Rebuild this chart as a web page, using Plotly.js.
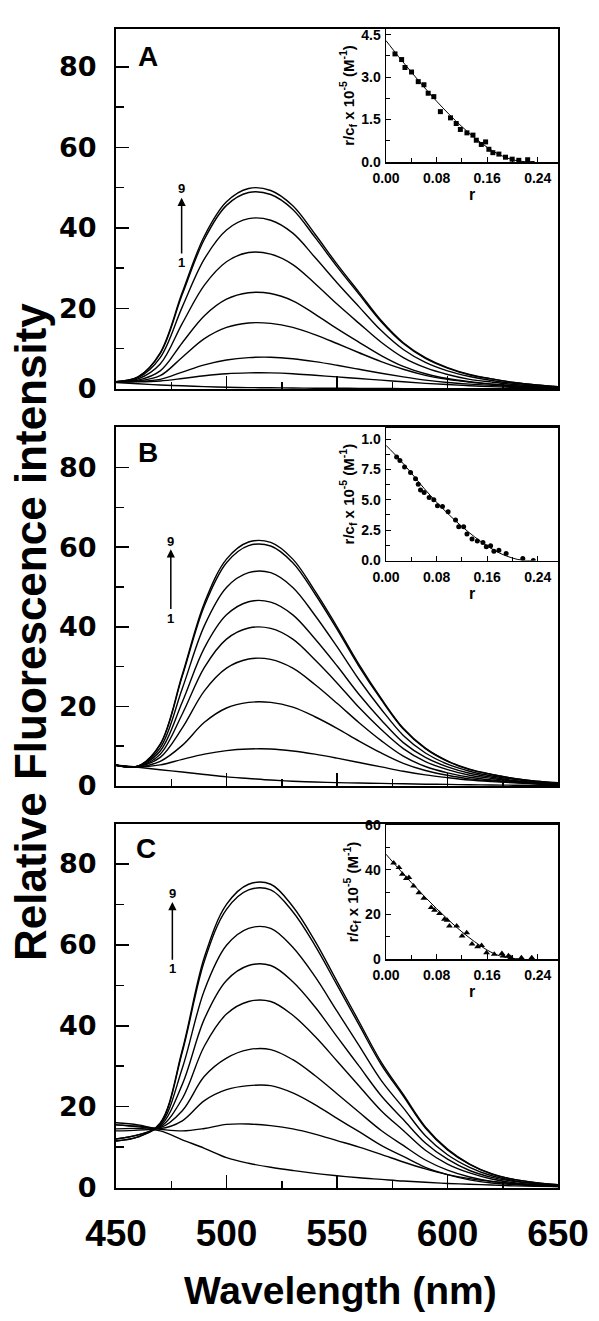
<!DOCTYPE html>
<html><head><meta charset="utf-8">
<script src="https://cdn.plot.ly/plotly-3.0.1.min.js"></script>
<style>html,body{margin:0;padding:0;background:#fff;} #chart{width:599px;height:1321px;}</style>
</head><body><div id="chart"></div>
<script>
// ---------- DATA ----------
const wavelength = [450,460,470,480,490,500,510,520,530,540,550,560,570,580,590,600,610,620,630,640,650];

// Panel A spectra (curve 1 .. 9)
const A1 = [1.6,1.3,1.0,0.8,0.6,0.45,0.35,0.3,0.25,0.2,0.2,0.15,0.15,0.1,0.1,0.1,0.1,0.1,0.1,0.1,0.1];
const A2 = [1.8,1.8,2.0,2.6,3.3,3.8,4.0,4.0,3.8,3.4,3.0,2.6,2.2,1.8,1.4,1.1,0.8,0.6,0.4,0.3,0.2];
const A3 = [1.8,1.9,2.4,4.2,6.0,7.2,7.8,7.9,7.5,6.8,5.9,4.9,3.9,3.0,2.2,1.6,1.2,0.9,0.6,0.4,0.3];
const A4 = [1.8,2.0,3.3,7.9,12.5,15.3,16.4,16.3,15.3,13.5,11.3,9.0,6.8,4.9,3.4,2.4,1.7,1.2,0.8,0.5,0.3];
const A5 = [1.8,2.2,4.5,11.5,18.2,22.3,23.9,23.7,21.9,18.6,15.0,11.6,8.3,5.6,3.8,2.6,1.8,1.2,0.8,0.5,0.3];
const A6 = [1.8,2.5,6.2,16.3,25.8,31.6,33.9,33.5,30.9,26.2,21.1,16.3,11.6,7.8,5.3,3.6,2.4,1.7,1.1,0.7,0.4];
const A7 = [1.8,2.8,7.8,20.4,32.3,39.5,42.3,41.9,38.7,32.7,26.4,20.4,14.5,9.8,6.6,4.5,3.1,2.1,1.4,0.9,0.5];
const A8 = [1.8,3.0,8.8,23.5,37.2,45.6,48.8,48.3,44.6,37.7,30.4,23.5,16.7,11.3,7.6,5.2,3.5,2.5,1.6,1.0,0.6];
const A9 = [1.8,3.0,9.0,24.0,38.0,46.5,49.8,49.3,45.5,38.5,31.0,24.0,17.0,11.5,7.8,5.3,3.6,2.5,1.6,1.0,0.6];

// Panel B spectra
const B1 = [5.2,4.7,4.1,3.5,2.9,2.3,1.9,1.5,1.2,1.0,0.85,0.75,0.65,0.55,0.45,0.4,0.3,0.25,0.2,0.15,0.1];
const B2 = [5.2,4.8,5.3,6.7,8.0,8.9,9.3,9.3,8.8,8.0,7.0,5.9,4.8,3.7,2.8,2.1,1.5,1.1,0.8,0.5,0.3];
const B3 = [5.2,4.8,6.2,10.2,16.0,19.6,21.0,21.0,19.8,17.4,14.5,11.3,8.3,5.7,3.9,2.7,1.8,1.3,0.9,0.6,0.4];
const B4 = [5.2,4.9,7.2,14.6,23.9,29.6,31.9,31.8,29.6,25.5,20.8,15.9,11.4,7.5,4.9,3.3,2.2,1.5,1.0,0.6,0.4];
const B5 = [5.2,4.9,8.0,18.1,29.8,36.9,39.7,39.6,36.9,31.7,25.9,19.7,14.2,9.4,6.1,4.1,2.7,1.9,1.2,0.8,0.5];
const B6 = [5.2,5.0,8.8,21.1,34.7,43.0,46.3,46.2,43.0,37.0,30.2,23.0,16.6,10.9,7.2,4.8,3.2,2.2,1.4,0.9,0.6];
const B7 = [5.2,5.0,9.6,24.5,40.3,49.9,53.6,53.6,49.9,42.9,35.0,26.7,19.3,12.7,8.3,5.5,3.7,2.5,1.7,1.1,0.7];
const B8 = [5.2,5.0,10.4,27.6,45.3,56.1,60.4,60.3,56.1,48.3,39.4,30.0,21.7,14.3,9.4,6.2,4.1,2.9,1.9,1.2,0.8];
const B9 = [5.2,5.0,10.5,28.0,46.0,57.0,61.3,61.2,57.0,49.0,40.0,30.5,22.0,14.5,9.5,6.3,4.2,2.9,1.9,1.2,0.8];

// Panel C spectra
const C1 = [14.5,14.6,14.0,11.8,9.7,7.4,6.0,5.0,4.2,3.5,2.9,2.4,2.0,1.6,1.3,1.0,0.8,0.6,0.4,0.3,0.2];
const C2 = [15.5,15.0,14.4,14.0,14.6,15.6,15.7,15.3,14.5,13.2,11.6,10.0,8.2,6.3,4.6,3.2,2.2,1.5,1.0,0.6,0.4];
const C3 = [16.0,15.5,14.6,16.5,21.5,24.2,25.2,25.2,23.4,20.5,17.1,13.8,10.4,7.7,5.0,3.2,1.9,1.1,0.7,0.4,0.2];
const C4 = [15.5,15.2,14.8,19.0,27.5,32.0,34.1,34.1,31.6,27.7,23.2,18.6,14.1,10.4,6.8,4.3,2.6,1.5,0.9,0.5,0.3];
const C5 = [14.0,14.2,15.0,22.0,35.0,42.9,46.0,46.0,42.6,37.4,31.3,25.1,19.0,14.1,9.2,5.8,3.6,2.1,1.2,0.7,0.4];
const C6 = [12.0,13.0,15.2,25.5,41.7,51.2,54.9,54.9,50.9,44.7,37.3,30.0,22.7,16.8,11.0,7.0,4.2,2.5,1.5,0.9,0.5];
const C7 = [12.0,13.0,15.5,29.5,48.8,59.9,64.1,64.1,59.4,52.2,43.6,35.1,26.5,19.7,12.8,8.1,5.0,2.9,1.7,1.0,0.6];
const C8 = [11.5,12.5,15.8,33.5,56.0,68.8,73.6,73.6,68.2,59.9,50.1,40.2,30.4,22.6,14.7,9.3,5.7,3.3,2.0,1.2,0.7];
const C9 = [11.5,12.5,16.0,34.0,57.0,70.0,75.0,75.0,69.5,61.0,51.0,41.0,31.0,23.0,15.0,9.5,5.8,3.4,2.0,1.2,0.7];

// Inset A (Scatchard, squares)
const insetA_r = [0.0142,0.0247,0.030,0.0404,0.051,0.060,0.0667,0.0756,0.086,0.102,0.111,0.1176,0.128,0.1375,0.1428,0.1507,0.1575,0.1627,0.169,0.1785,0.189,0.1995,0.210,0.224];
const insetA_y = [3.82,3.62,3.34,3.18,2.84,2.73,2.43,2.31,1.78,1.56,1.36,1.15,1.03,0.95,0.77,0.62,0.71,0.45,0.33,0.28,0.17,0.10,0.06,0.08];
const fitA_r = [0,0.02,0.04,0.06,0.08,0.10,0.12,0.14,0.16,0.18,0.20,0.22,0.235];
const fitA_y = [4.29,3.72,3.18,2.65,2.15,1.68,1.25,0.86,0.52,0.25,0.08,0.01,0.02];

// Inset B (circles)
const insetB_r = [0.0168,0.022,0.0294,0.0388,0.0467,0.051,0.0546,0.0603,0.0682,0.0756,0.0814,0.0893,0.0982,0.110,0.115,0.1228,0.128,0.136,0.1444,0.1533,0.1586,0.1654,0.1706,0.1785,0.190,0.2163,0.233];
const insetB_y = [8.51,8.24,7.69,7.25,6.72,6.28,5.81,5.59,5.18,4.99,4.51,4.44,4.02,3.34,2.78,2.78,2.18,1.77,1.60,1.49,1.13,1.21,0.77,0.85,0.58,0.17,0.0];
const fitB_r = [0,0.02,0.04,0.06,0.08,0.10,0.12,0.14,0.16,0.18,0.20,0.215,0.235];
const fitB_y = [9.48,8.4,7.2,5.95,4.8,3.75,2.8,1.95,1.2,0.6,0.2,0.03,0.0];

// Inset C (triangles)
const insetC_r = [0.0121,0.0205,0.0258,0.0321,0.0362,0.0436,0.052,0.0598,0.0715,0.0767,0.0846,0.0924,0.0967,0.1003,0.1118,0.1203,0.1276,0.136,0.1449,0.1512,0.159,0.1712,0.1833,0.1853,0.1937,0.1974,0.2141,0.2305];
const insetC_y = [43.1,41.0,38.0,36.1,36.6,32.7,29.7,27.2,23.1,21.9,20.4,17.8,17.4,14.8,14.8,10.3,11.8,6.7,5.5,6.0,2.8,2.1,2.5,1.3,1.5,0.7,0.6,0.6];
const fitC_r = [0,0.02,0.04,0.06,0.08,0.10,0.12,0.14,0.16,0.18,0.20,0.21];
const fitC_y = [47.0,40.5,34.3,28.3,22.6,17.2,12.2,7.8,4.0,1.4,0.3,0.1];

const panelLabels = ['A','B','C'];
const insetBTickText = ['0.0','2.5','5.0','7.5','1.0'];

// ---------- LAYOUT HELPERS ----------
const W = 599, H = 1321;
const fx = p => p / W;
const fy = p => 1 - p / H;
const BOLD = 'bold';
const FONT = 'Liberation Sans, Arial, sans-serif';

const panels = [
  {curves:[A1,A2,A3,A4,A5,A6,A7,A8,A9], top:29, bot:389, ymax:89.4,
   inset:{r:insetA_r, y:insetA_y, fr:fitA_r, fy:fitA_y, sym:'square', size:5, top:29, bot:162, ymax:4.7, dtick:1.5, fmt:'.1f'},
   arrow:{x:479.7, y1:47.5, t9:49.9, t1:31.4}, lab:{x:464.5, y:82.5}},
  {curves:[B1,B2,B3,B4,B5,B6,B7,B8,B9], top:427, bot:786, ymax:90.2,
   inset:{r:insetB_r, y:insetB_y, fr:fitB_r, fy:fitB_y, sym:'circle', size:5, top:427.7, bot:560.5, ymax:10.93, dtick:2.5, fmt:'.1f', ticktext:insetBTickText},
   arrow:{x:474.8, y1:59.5, t9:61.4, t1:42.2}, lab:{x:464.7, y:83.8}},
  {curves:[C1,C2,C3,C4,C5,C6,C7,C8,C9], top:824, bot:1187.5, ymax:89.9,
   inset:{r:insetC_r, y:insetC_y, fr:fitC_r, fy:fitC_y, sym:'triangle-up', size:6, top:825, bot:959, ymax:60.1, dtick:20, fmt:'d'},
   arrow:{x:475.5, y1:70.6, t9:72.8, t1:54.1}, lab:{x:463.6, y:83.9}}
];

const traces = [];
const layout = {
  width: W, height: H, margin:{l:0,r:0,t:0,b:0},
  paper_bgcolor:'#fff', plot_bgcolor:'rgba(0,0,0,0)',
  showlegend:false, font:{family:FONT, color:'#000'},
  annotations:[]
};

panels.forEach((p, i) => {
  const n = i + 1, m = i + 4;
  const xa = 'x' + (n===1?'':n), ya = 'y' + (n===1?'':n);
  const xi = 'x' + m, yi = 'y' + m;
  p.curves.forEach(c => traces.push({x:wavelength, y:c, xaxis:xa, yaxis:ya, type:'scatter', mode:'lines',
    line:{color:'#000', width:1.4, shape:'spline', smoothing:1}, hoverinfo:'skip'}));
  traces.push({x:p.inset.fr, y:p.inset.fy, xaxis:xi, yaxis:yi, type:'scatter', mode:'lines',
    line:{color:'#000', width:1, shape:'spline'}});
  traces.push({x:p.inset.r, y:p.inset.y, xaxis:xi, yaxis:yi, type:'scatter', mode:'markers',
    marker:{symbol:p.inset.sym, size:p.inset.size, color:'#000'}});

  layout['xaxis' + (n===1?'':n)] = {
    domain:[fx(116), fx(558)], anchor:ya, range:[450,650], tick0:450, dtick:50,
    ticks:'inside', ticklen:13, tickwidth:1.5, tickcolor:'#000',
    minor:{tick0:450, dtick:25, ticks:'inside', ticklen:7, tickwidth:1.5, tickcolor:'#000', showgrid:false},
    showline:true, linewidth:2, linecolor:'#000', mirror:true, showgrid:false, zeroline:false,
    showticklabels: n===3, ticklabelstandoff: 12,
    tickfont:{family:FONT, size:37, weight:BOLD, color:'#000'}
  };
  layout['yaxis' + (n===1?'':n)] = {
    domain:[fy(p.bot), fy(p.top)], anchor:xa, range:[0,p.ymax], tick0:0, dtick:20,
    ticks:'inside', ticklen:13, tickwidth:1.5, tickcolor:'#000',
    minor:{tick0:0, dtick:10, ticks:'inside', ticklen:8, tickwidth:1.5, tickcolor:'#000', showgrid:false},
    showline:true, linewidth:2, linecolor:'#000', mirror:true, showgrid:false, zeroline:false,
    ticklabelstandoff: 12,
    tickfont:{family:'DejaVu Sans, sans-serif', size:27, weight:BOLD, color:'#000'}
  };
  layout['xaxis' + m] = {
    domain:[fx(386), fx(558)], anchor:yi, range:[0,0.272], tick0:0, dtick:0.08, tickformat:'.2f',
    ticks:'inside', ticklen:5, tickwidth:1, tickcolor:'#000',
    minor:{tick0:0, dtick:0.04, ticks:'inside', ticklen:4, tickwidth:1, tickcolor:'#000', showgrid:false},
    showline:true, linewidth:1.5, linecolor:'#000', mirror:true, showgrid:false, zeroline:false,
    ticklabelstandoff: 3,
    tickfont:{family:FONT, size:14, weight:BOLD, color:'#000'},
    title:{text:'r', standoff:1, font:{family:FONT, size:16, weight:BOLD, color:'#000'}}
  };
  const yin = {
    domain:[fy(p.inset.bot), fy(p.inset.top)], anchor:xi, range:[0,p.inset.ymax], tick0:0, dtick:p.inset.dtick,
    tickformat:p.inset.fmt,
    ticks:'inside', ticklen:5, tickwidth:1, tickcolor:'#000',
    minor:{tick0:0, dtick:p.inset.dtick/2, ticks:'inside', ticklen:4, tickwidth:1, tickcolor:'#000', showgrid:false},
    showline:true, linewidth:1.5, linecolor:'#000', mirror:true, showgrid:false, zeroline:false,
    ticklabelstandoff: 1,
    tickfont:{family:FONT, size:14, weight:BOLD, color:'#000'},
    title:{text:'r/c<sub>f</sub> x 10<sup>-5</sup> (M<sup>-1</sup>)', standoff:3, font:{family:FONT, size:15, weight:BOLD, color:'#000'}}
  };
  if (p.inset.ticktext) { yin.tickmode = 'array'; yin.tickvals = [0,2.5,5,7.5,10]; yin.ticktext = p.inset.ticktext; }
  layout['yaxis' + m] = yin;

  // panel letter
  layout.annotations.push({xref:xa, yref:ya, x:p.lab.x, y:p.lab.y, text:panelLabels[i], showarrow:false,
    font:{family:FONT, size:28, weight:BOLD, color:'#000'}});
  // "1" label with arrow pointing up towards "9"
  layout.annotations.push({xref:xa, yref:ya, axref:xa, ayref:ya, x:p.arrow.x, y:p.arrow.y1, ax:p.arrow.x, ay:p.arrow.t1,
    text:'1', showarrow:true, arrowhead:2, arrowsize:1.1, arrowwidth:1.5, arrowcolor:'#000', standoff:0,
    font:{family:FONT, size:13, weight:BOLD, color:'#000'}});
  layout.annotations.push({xref:xa, yref:ya, x:p.arrow.x, y:p.arrow.t9, text:'9', showarrow:false,
    font:{family:FONT, size:13, weight:BOLD, color:'#000'}});
});

// Shared axis titles
layout.annotations.push({xref:'paper', yref:'paper', x:fx(31), y:fy(632), text:'Relative Fluorescence intensity',
  textangle:-90, showarrow:false, xanchor:'center', yanchor:'middle',
  font:{family:FONT, size:44, weight:BOLD, color:'#000'}});
layout.annotations.push({xref:'paper', yref:'paper', x:fx(341), y:fy(1290), text:'Wavelength (nm)',
  showarrow:false, xanchor:'center', yanchor:'middle',
  font:{family:FONT, size:39, weight:BOLD, color:'#000'}});

Plotly.newPlot('chart', traces, layout, {staticPlot:true, displayModeBar:false});
</script>
</body></html>
